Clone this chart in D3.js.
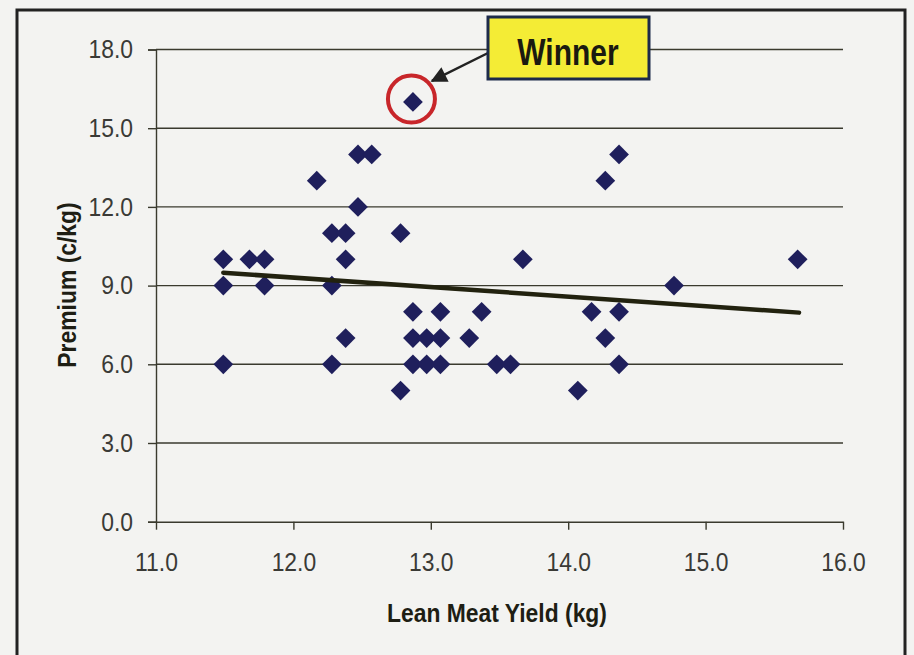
<!DOCTYPE html>
<html>
<head>
<meta charset="utf-8">
<script src="https://cdn.jsdelivr.net/npm/d3@7"></script>
<style>
  html, body { margin: 0; padding: 0; background: #f3f3f1; }
  svg { display: block; }
  text { font-family: 'Liberation Sans', Arial, sans-serif; }
</style>
</head>
<body>
<svg id="chart"></svg>
<script>
'use strict'

// lean meat yield (kg) and premium (c/kg) of every carcase
const yieldKg = [11.49, 11.49, 11.49, 11.68, 11.79, 11.79, 12.17, 12.28, 12.28, 12.28,
  12.38, 12.38, 12.38, 12.47, 12.47, 12.57, 12.78, 12.78, 12.87, 12.87,
  12.87, 12.87, 12.97, 12.97, 13.07, 13.07, 13.07, 13.28, 13.37, 13.48,
  13.58, 13.67, 14.07, 14.17, 14.27, 14.27, 14.37, 14.37, 14.37, 14.77, 15.67]
const premium = [10, 9, 6, 10, 10, 9, 13, 11, 9, 6,
  11, 10, 7, 14, 12, 14, 11, 5, 16, 8,
  7, 6, 7, 6, 8, 7, 6, 7, 8, 6,
  6, 10, 5, 8, 13, 7, 14, 8, 6, 9, 10]
const winnerIndex = 18 // the 16.0 c/kg carcase

// linear trend line ends, as drawn in the picture
const trendX = [11.49, 15.68]
const trendY = [9.49, 7.97]

const xTicks = [11, 12, 13, 14, 15, 16]
const yTicks = [0, 3, 6, 9, 12, 15, 18]

const width = 914
const height = 655

// squeeze text to look like a narrow typeface
function narrow(sel, k) {
  sel.each(function () {
    const w = this.getComputedTextLength()
    d3.select(this).attr('textLength', w * k).attr('lengthAdjust', 'spacingAndGlyphs')
  })
}

const svg = d3.select('#chart')
  .attr('width', width)
  .attr('height', height)

// outer frame (runs off the bottom of the page)
svg.append('rect')
  .attr('x', 17).attr('y', 10)
  .attr('width', 888).attr('height', 660)
  .attr('fill', 'none')
  .attr('stroke', '#222')
  .attr('stroke-width', 3)

const x = d3.scaleLinear().domain([11, 16]).range([156, 843])
const y = d3.scaleLinear().domain([0, 18]).range([521.7, 49.5])

// horizontal gridlines
svg.append('g')
  .selectAll('line')
  .data(yTicks.slice(1))
  .enter().append('line')
    .attr('x1', x(11)).attr('x2', x(16))
    .attr('y1', d => y(d)).attr('y2', d => y(d))
    .attr('stroke', '#3a3a2e')
    .attr('stroke-width', 1.4)

// y axis
const yAxis = svg.append('g')
  .attr('transform', 'translate(' + x(11) + ',0)')
  .call(d3.axisLeft(y).tickValues(yTicks).tickFormat(d3.format('.1f')).tickSize(8).tickPadding(15))
yAxis.select('.domain').attr('stroke', '#3a3a2e').attr('stroke-width', 1.4)
yAxis.selectAll('.tick line').attr('stroke', '#3a3a2e').attr('stroke-width', 1.4)
yAxis.selectAll('.tick text')
  .attr('fill', '#3a3a36')
  .style('font-size', '26px')
  .call(narrow, 0.88)

// x axis
const xAxis = svg.append('g')
  .attr('transform', 'translate(0,' + y(0) + ')')
  .call(d3.axisBottom(x).tickValues(xTicks).tickFormat(d3.format('.1f')).tickSize(8).tickPadding(23).tickSizeOuter(0))
xAxis.select('.domain').attr('stroke', '#3a3a2e').attr('stroke-width', 1.6)
xAxis.selectAll('.tick line').attr('stroke', '#3a3a2e').attr('stroke-width', 1.4)
xAxis.selectAll('.tick text')
  .attr('fill', '#3a3a36')
  .style('font-size', '26px')
  .call(narrow, 0.88)

// axis titles
svg.append('text')
  .attr('x', 497).attr('y', 622)
  .attr('text-anchor', 'middle')
  .attr('fill', '#1e1e14')
  .style('font-size', '26px')
  .style('font-weight', 'bold')
  .text('Lean Meat Yield (kg)')
  .call(narrow, 0.88)

svg.append('text')
  .attr('transform', 'translate(76,285) rotate(-90)')
  .attr('text-anchor', 'middle')
  .attr('fill', '#1e1e14')
  .style('font-size', '26px')
  .style('font-weight', 'bold')
  .text('Premium (c/kg)')
  .call(narrow, 0.88)

// points: diamonds
const points = yieldKg.map((d, i) => ({ x: d, y: premium[i] }))
const diamond = d3.symbol().type(d3.symbolSquare).size(195)
svg.append('g')
  .selectAll('path')
  .data(points)
  .enter().append('path')
    .attr('d', diamond)
    .attr('transform', d => 'translate(' + x(d.x) + ',' + y(d.y) + ') rotate(45)')
    .attr('fill', '#1f1f5c')

// trend line
svg.append('line')
  .attr('x1', x(trendX[0])).attr('y1', y(trendY[0]))
  .attr('x2', x(trendX[1])).attr('y2', y(trendY[1]))
  .attr('stroke', '#22220f')
  .attr('stroke-width', 4.5)
  .attr('stroke-linecap', 'round')

// winner callout
const win = points[winnerIndex]
svg.append('circle')
  .attr('cx', x(win.x) - 1.5).attr('cy', y(win.y) - 3)
  .attr('r', 23.5)
  .attr('fill', 'none')
  .attr('stroke', '#c8262a')
  .attr('stroke-width', 4)

svg.append('defs').append('marker')
  .attr('id', 'arrow')
  .attr('viewBox', '0 0 10 10')
  .attr('refX', 9).attr('refY', 5)
  .attr('markerWidth', 8).attr('markerHeight', 6.5)
  .attr('markerUnits', 'strokeWidth')
  .attr('orient', 'auto')
  .append('path')
    .attr('d', 'M0,0L10,5L0,10Z')
    .attr('fill', '#222')

svg.append('line')
  .attr('x1', 488).attr('y1', 53)
  .attr('x2', x(win.x) + 19).attr('y2', y(win.y) - 21)
  .attr('stroke', '#222')
  .attr('stroke-width', 2.5)
  .attr('marker-end', 'url(#arrow)')

svg.append('rect')
  .attr('x', 488).attr('y', 17)
  .attr('width', 161).attr('height', 62)
  .attr('fill', '#f4ec35')
  .attr('stroke', '#1c2a4a')
  .attr('stroke-width', 3)

svg.append('text')
  .attr('x', 568).attr('y', 65)
  .attr('text-anchor', 'middle')
  .attr('fill', '#1a1a10')
  .style('font-size', '37px')
  .style('font-weight', 'bold')
  .text('Winner')
  .call(narrow, 0.81)
</script>
</body>
</html>
